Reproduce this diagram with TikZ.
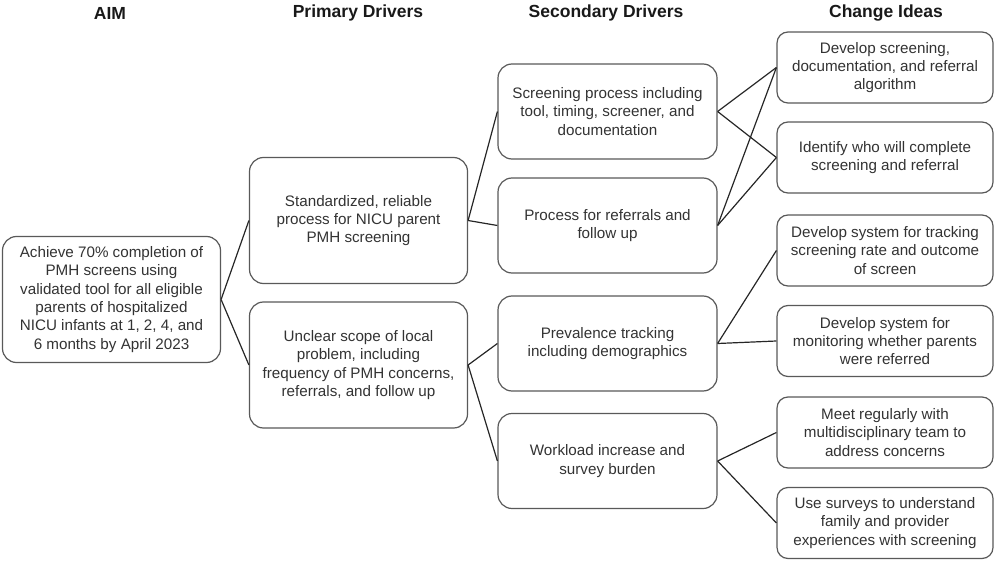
\documentclass[tikz,border=0pt]{standalone}
\usepackage{fontspec}
\setmainfont{Liberation Sans}
\begin{document}
\begin{tikzpicture}[x=1pt,y=-1pt,
  box/.style={draw=black!65, line width=1.2pt, rounded corners=14pt, fill=white,
    align=center, text=black!80, inner sep=2pt,
    font=\fontsize{15.2}{18.3}\selectfont},
  big/.style={box, minimum width=218pt, minimum height=126pt},
  mid/.style={box, minimum width=219pt, minimum height=95pt},
  small/.style={box, rounded corners=11pt, minimum width=216pt, minimum height=71pt},
  head/.style={font=\fontsize{17.5}{20}\selectfont\bfseries, text=black!90},
  link/.style={draw=black!85, line width=1.2pt}]
\useasboundingbox (0,0) rectangle (1000,561);
\node[head] (hA) at (110,13) {AIM};
\node[head] (hP) at (358,13) {Primary Drivers};
\node[head] (hS) at (606,13) {Secondary Drivers};
\node[head] (hC) at (886,13) {Change Ideas};

\node[big] (aim) at (111.5,299.5) {Achieve 70\% completion of\\PMH screens using\\validated tool for all eligible\\parents of hospitalized\\NICU infants at 1, 2, 4, and\\6 months by April 2023};
\node[big] (p1) at (358.5,220.5) {Standardized, reliable\\process for NICU parent\\PMH screening};
\node[big] (p2) at (358.5,365) {Unclear scope of local\\problem, including\\frequency of PMH concerns,\\referrals, and follow up};

\node[mid] (s1) at (607.5,111.5) {Screening process including\\tool, timing, screener, and\\documentation};
\node[mid] (s2) at (607.5,225.5) {Process for referrals and\\follow up};
\node[mid] (s3) at (607.5,343.5) {Prevalence tracking\\including demographics};
\node[mid] (s4) at (607.5,461) {Workload increase and\\survey burden};

\node[small] (c1) at (885,67.5) {Develop screening,\\documentation, and referral\\algorithm};
\node[small] (c2) at (885,157.5) {Identify who will complete\\screening and referral};
\node[small] (c3) at (885,250.5) {Develop system for tracking\\screening rate and outcome\\of screen};
\node[small] (c4) at (885,341) {Develop system for\\monitoring whether parents\\were referred};
\node[small] (c5) at (885,432.5) {Meet regularly with\\multidisciplinary team to\\address concerns};
\node[small] (c6) at (885,523) {Use surveys to understand\\family and provider\\experiences with screening};

\draw[link] (aim.east) -- (p1.west);
\draw[link] (aim.east) -- (p2.west);
\draw[link] (p1.east) -- (s1.west);
\draw[link] (p1.east) -- (s2.west);
\draw[link] (p2.east) -- (s3.west);
\draw[link] (p2.east) -- (s4.west);
\draw[link] (s1.east) -- (c1.west);
\draw[link] (s1.east) -- (c2.west);
\draw[link] (s2.east) -- (c1.west);
\draw[link] (s2.east) -- (c2.west);
\draw[link] (s3.east) -- (c3.west);
\draw[link] (s3.east) -- (c4.west);
\draw[link] (s4.east) -- (c5.west);
\draw[link] (s4.east) -- (c6.west);
\end{tikzpicture}
\end{document}
